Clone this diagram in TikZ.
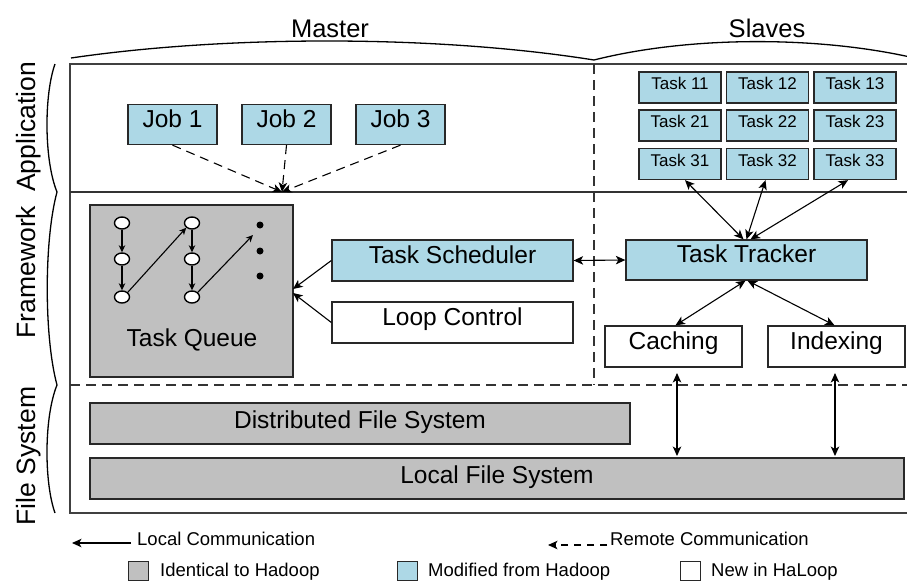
\documentclass[tikz,border=0pt]{standalone}
\usepackage{fontspec}
\setmainfont{Liberation Sans}
\usetikzlibrary{arrows.meta,calc,shapes.geometric}
\definecolor{hlblue}{RGB}{173,216,230}
\definecolor{hlgray}{RGB}{192,192,192}
\definecolor{hledge}{RGB}{40,40,40}
\newcommand\fsBody{\fontsize{24.5}{29}\selectfont}
\newcommand\fsTask{\fontsize{17}{20}\selectfont}
\newcommand\fsTitle{\fontsize{25.5}{30}\selectfont}
\newcommand\fsSide{\fontsize{26.5}{30}\selectfont}
\newcommand\fsLegend{\fontsize{18.5}{22}\selectfont}

\begin{document}
\begin{tikzpicture}[x=1pt,y=-1pt,
  box/.style={draw=hledge, line width=1.3pt, inner sep=0pt, font=\fsBody,
              text height=17.5pt, text depth=12pt},
  bluebox/.style={box, fill=hlblue},
  graybox/.style={box, fill=hlgray},
  whitebox/.style={box, fill=white},
  taskbox/.style={draw=hledge, line width=1.3pt, fill=hlblue, inner sep=0pt,
                  font=\fsTask, text height=12.2pt, text depth=8pt,
                  minimum width=82pt, minimum height=31pt},
  tip/.tip={Stealth[length=9.5pt,width=8.5pt,inset=2.5pt]},
  link/.style={line width=1.1pt, -tip},
  dlink/.style={line width=1.1pt, tip-tip},
  rlink/.style={link, dash pattern=on 9pt off 6pt},
  qnode/.style={ellipse, draw=black, fill=white, line width=1.4pt, inner sep=0pt,
                minimum width=15pt, minimum height=12pt},
  qlink/.style={line width=1.1pt, -{Stealth[length=7pt,width=6.5pt,inset=2pt]}},
  qdot/.style={circle, fill=black, inner sep=0pt, minimum size=7pt},
  frameline/.style={draw=black!75, line width=1.7pt},
  divider/.style={draw=black!80, line width=1.2pt, dash pattern=on 10pt off 6pt},
  brace/.style={draw=black, line width=1.3pt},
  legendtext/.style={font=\fsLegend, anchor=base west, inner sep=0pt},
  legendsq/.style={draw=hledge, line width=1pt, inner sep=0pt,
                   minimum width=20pt, minimum height=19pt}
]
\useasboundingbox (0,0) rectangle (907,581);

% ---- column headings with their arcs ----
\node[font=\fsTitle, anchor=base, inner sep=0pt] (master) at (330,37.5) {Master};
\node[font=\fsTitle, anchor=base, inner sep=0pt] (slaves) at (767,37.5) {Slaves};
\coordinate (arcA) at (71,58);
\coordinate (arcB) at (594,60);
\coordinate (arcC) at (910,57);
\draw[brace] (arcA) .. controls (228,35) and (437,35) .. (arcB);
\draw[brace] (arcB) .. controls (689,36) and (815,36) .. (arcC);

% ---- layer headings with their arcs ----
\node[font=\fsSide, rotate=90, anchor=base, inner sep=0pt] (lapp) at (35,127) {Application};
\node[font=\fsSide, rotate=90, anchor=base, inner sep=0pt] (lfw) at (35,272) {Framework};
\node[font=\fsSide, rotate=90, anchor=base, inner sep=0pt] (lfs) at (35,456) {File System};
\coordinate (bA) at (55,64);
\coordinate (bB) at (57,192);
\coordinate (bC) at (57,385);
\coordinate (bD) at (55,513);
\draw[brace] (bA) .. controls (44,95) and (44,160) .. (bB);
\draw[brace] (bB) .. controls (44,240) and (44,337) .. (bC);
\draw[brace] (bC) .. controls (44,417) and (44,482) .. (bD);

% ---- outer frame and layer dividers ----
\draw[frameline] (910,64) -- (70,64) -- (70,513) -- (910,513);
\draw[draw=black!80, line width=1.2pt] (70,192) -- (910,192);
\draw[divider] (70,385) -- (910,385);
\draw[divider] (594,64) -- (594,385);

% ---- application layer ----
\node[bluebox, minimum width=89pt, minimum height=40pt] (job1) at (172.5,124.5) {Job 1};
\node[bluebox, minimum width=89pt, minimum height=40pt] (job2) at (286.5,124.5) {Job 2};
\node[bluebox, minimum width=89pt, minimum height=40pt] (job3) at (400.5,124.5) {Job 3};
\coordinate (jobsink) at (282,192);
\draw[rlink] (job1.south) -- (jobsink);
\draw[rlink] (job2.south) -- (jobsink);
\draw[rlink] (job3.south) -- (jobsink);

\foreach \r/\y in {1/87.5,2/125.5,3/164}{
  \foreach \c/\x in {1/680,2/767.5,3/855}{
    \node[taskbox] (t\r\c) at (\x,\y) {Task \r\c};
  }
}

% ---- framework layer: task queue ----
\node[graybox, minimum width=203pt, minimum height=172pt] (tq) at (191.5,291) {};
\node[font=\fsBody, anchor=base, inner sep=0pt] (tqlabel) at (192,346) {Task Queue};
\node[qnode] (q11) at (122,223) {};
\node[qnode] (q12) at (122,259) {};
\node[qnode] (q13) at (122,297) {};
\node[qnode] (q21) at (192,223) {};
\node[qnode] (q22) at (192,259) {};
\node[qnode] (q23) at (192,297) {};
\node[qdot] (d1) at (260,225) {};
\node[qdot] (d2) at (260,251) {};
\node[qdot] (d3) at (260,276) {};
\coordinate (qend) at (253,235);
\draw[qlink] (q11) -- (q12);
\draw[qlink] (q12) -- (q13);
\draw[qlink] (q13.north east) -- (q21.south west);
\draw[qlink] (q21) -- (q22);
\draw[qlink] (q22) -- (q23);
\draw[qlink] (q23.north east) -- (qend);

% ---- framework layer: scheduling ----
\node[bluebox, minimum width=241pt, minimum height=41pt] (sched) at (452.5,260.5) {Task Scheduler};
\node[whitebox, minimum width=241pt, minimum height=41pt] (loop) at (452.5,322.5) {Loop Control};
\coordinate (tqinA) at (293,289);
\coordinate (tqinB) at (293,293);
\draw[link] (sched.west) -- (tqinA);
\draw[link] (loop.west) -- (tqinB);

\node[bluebox, minimum width=241pt, minimum height=40pt] (tracker) at (746.5,260) {Task Tracker};
\draw[dlink] (sched.east) -- (tracker.west);
\draw[dlink] ($(tracker.north)+(-3,0)$) -- ($(t31.south)+(5,0)$);
\draw[dlink] ($(tracker.north)+(0,0)$) -- ($(t32.south)+(-2,0)$);
\draw[dlink] ($(tracker.north)+(4,0)$) -- ($(t33.south)+(-7,0)$);

\node[whitebox, minimum width=137pt, minimum height=41pt] (caching) at (673.5,346.5) {Caching};
\node[whitebox, minimum width=137pt, minimum height=41pt] (indexing) at (836.5,346.5) {Indexing};
\draw[dlink] ($(tracker.south)+(-1,0)$) -- ($(caching.north)+(2,0)$);
\draw[dlink] ($(tracker.south)+(1,0)$) -- ($(indexing.north)+(-2,0)$);

% ---- file system layer ----
\node[graybox, minimum width=540pt, minimum height=41pt, text depth=8.5pt] (dfs) at (360,423.5) {Distributed File System};
\node[graybox, minimum width=814pt, minimum height=41pt, text depth=8.5pt] (lfsys) at (497,478.5) {Local File System};
\coordinate (cacheUp) at (677,373);
\coordinate (cacheDown) at (677,456);
\coordinate (indexUp) at (835,373);
\coordinate (indexDown) at (835,456);
\draw[dlink] (cacheUp) -- (cacheDown);
\draw[dlink] (indexUp) -- (indexDown);

% ---- legend ----
\coordinate (localA) at (131,543);
\coordinate (localB) at (72,543);
\draw[link] (localA) -- (localB);
\node[legendtext] (localtxt) at (137,545) {Local Communication};
\coordinate (remoteA) at (607,545);
\coordinate (remoteB) at (548,545);
\draw[link, dash pattern=on 7pt off 6pt] (remoteA) -- (remoteB);
\node[legendtext] (remotetxt) at (610,545) {Remote Communication};

\node[legendsq, fill=hlgray] (sqgray) at (138,570.5) {};
\node[legendtext] (txtgray) at (160,576) {Identical to Hadoop};
\node[legendsq, fill=hlblue] (sqblue) at (407,570.5) {};
\node[legendtext] (txtblue) at (428,576) {Modified from Hadoop};
\node[legendsq, fill=white] (sqwhite) at (690,570.5) {};
\node[legendtext] (txtwhite) at (711,576) {New in HaLoop};
\end{tikzpicture}
\end{document}
